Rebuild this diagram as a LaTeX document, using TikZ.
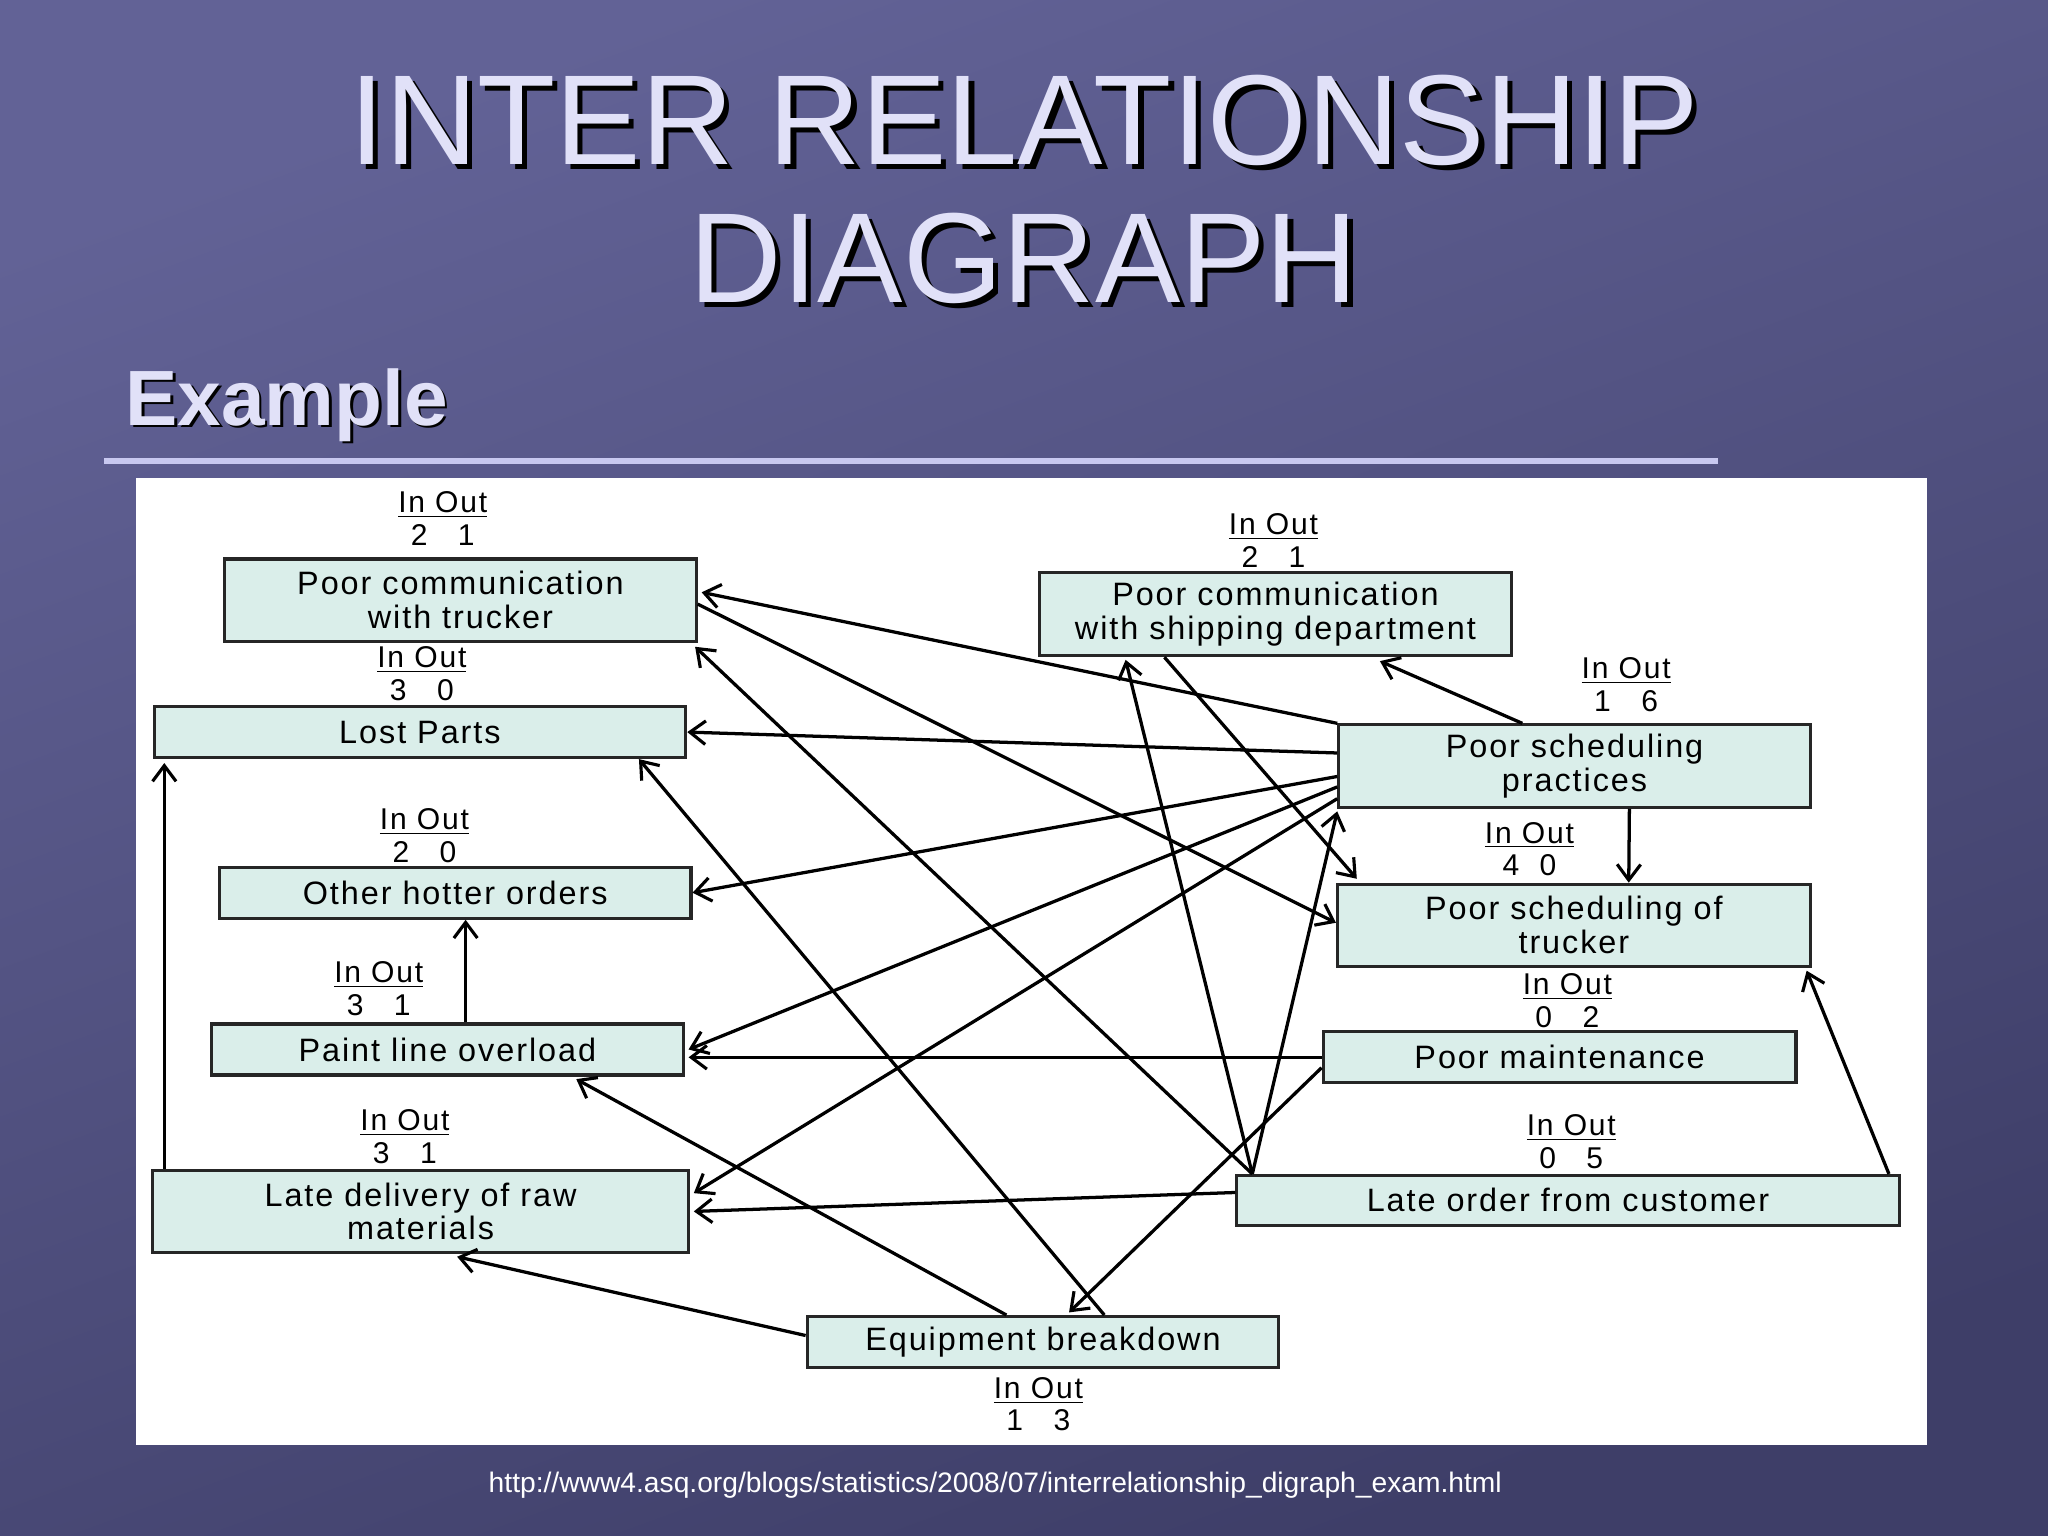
\documentclass[tikz,border=0pt]{standalone}
\usepackage{fontspec}
\setmainfont{Liberation Sans}
\newfontfamily\boxfont{Liberation Sans}[LetterSpace=6]
\usetikzlibrary{arrows.meta,calc}
\definecolor{bgtop}{RGB}{98,98,150}
\definecolor{bgbot}{RGB}{62,62,104}
\definecolor{ttl}{RGB}{225,225,248}
\definecolor{boxfill}{RGB}{218,238,234}
\definecolor{rule}{RGB}{200,200,240}
\begin{document}
\begin{tikzpicture}[x=0.5pt,y=-0.5pt,
  box/.style={draw=black!85,line width=1.2pt,fill=boxfill,inner sep=0pt,align=center,font=\boxfont\fontsize{12.4}{13}\selectfont},
  lab/.style={align=center,inner sep=0pt,font=\boxfont\fontsize{11.5}{12.5}\selectfont},
  arr/.style={line width=1.25pt,-{Straight Barb[length=6pt,width=9pt,line width=1.2pt]}}]
\useasboundingbox (0,0) rectangle (1568,1176);
\shade[top color=bgtop,bottom color=bgbot,shading angle=20] (0,0) rectangle (1568,1176);
% title
\foreach \dx/\c in {4/black,0/ttl}{
  \node[text=\c,font=\fontsize{49}{54}\selectfont] at ($(784,92)+(\dx,\dx)$) {INTER RELATIONSHIP};
  \node[text=\c,font=\fontsize{49}{54}\selectfont] at ($(784,198)+(\dx,\dx)$) {DIAGRAPH};
  \node[text=\c,font=\bfseries\fontsize{30}{34}\selectfont,anchor=west] at ($(89,310)+(\dx/2,\dx/2)$) {Example};
}
\draw[rule,line width=2pt] (80,353) -- (1315,353);
\fill[white] (104,366) rectangle (1475,1106);
\node[white,font=\fontsize{10.8}{12}\selectfont] (url) at (762,1137) {http://www4.asq.org/blogs/statistics/2008/07/interrelationship\_digraph\_exam.html};
% boxes
\node[box,minimum width=180.5pt,minimum height=31.5pt] (A) at (352.5,459.5) {Poor communication\\with trucker};
\node[box,minimum width=180.5pt,minimum height=32pt] (B) at (976.5,470) {Poor communication\\with shipping department};
\node[box,minimum width=203.5pt,minimum height=19.5pt] (C) at (321.5,560.5) {Lost Parts};
\node[box,minimum width=180.5pt,minimum height=31.5pt] (D) at (1205.5,586.5) {Poor scheduling\\practices};
\node[box,minimum width=180.5pt,minimum height=19.5pt] (E) at (348.5,683.5) {Other hotter orders};
\node[box,minimum width=181pt,minimum height=31.5pt] (F) at (1205,708.5) {Poor scheduling of\\trucker};
\node[box,minimum width=180.5pt,minimum height=19.5pt] (G) at (342.5,803.5) {Paint line overload};
\node[box,minimum width=181pt,minimum height=19.5pt] (H) at (1194,809.5) {Poor maintenance};
\node[box,minimum width=205pt,minimum height=31.5pt] (I) at (322,927.5) {Late delivery of raw\\materials};
\node[box,minimum width=253.5pt,minimum height=19pt] (J) at (1200.5,919) {Late order from customer};
\node[box,minimum width=180.5pt,minimum height=19.5pt] (K) at (798.5,1027.5) {Equipment breakdown};
% labels
\node[lab] (la) at (339,397) {\underline{In Out}\\2~~~1};
\node[lab] (lb) at (975,414) {\underline{In Out}\\2~~~1};
\node[lab] (lc) at (323,516) {\underline{In Out}\\3~~~0};
\node[lab] (ld) at (1245,524) {\underline{In Out}\\1~~~6};
\node[lab] (le) at (325,640) {\underline{In Out}\\2~~~0};
\node[lab] (lf) at (1171,650) {\underline{In Out}\\4~~0};
\node[lab] (lg) at (290,757) {\underline{In Out}\\3~~~1};
\node[lab] (lh) at (1200,766) {\underline{In Out}\\0~~~2};
\node[lab] (li) at (310,870) {\underline{In Out}\\3~~~1};
\node[lab] (lj) at (1203,874) {\underline{In Out}\\0~~~5};
\node[lab] (lk) at (795,1075) {\underline{In Out}\\1~~~3};
% arrows
\draw[arr] (D.north west) -- ($(A.east)+(3,-6)$);
\draw[arr] ($(D.west)+(0,-10)$) -- (C.east);
\draw[arr] ($(D.west)+(0,8)$) -- (E.east);
\draw[arr] ($(D.west)+(0,16)$) -- ($(G.east)+(3,0)$);
\draw[arr] ($(D.west)+(0,25)$) -- ($(I.east)+(3,-14)$);
\draw[arr] ($(D.north)+(-40,0)$) -- ($(B.south)+(80,3)$);
\draw[arr] ($(D.south)+(42,0)$) -- ($(F.north)+(42,0)$);
\draw[arr] ($(A.east)+(0,3)$) -- ($(F.west)+(0,-2)$);
\draw[arr] ($(B.south)+(-85,0)$) -- ($(F.north west)+(16,-3)$);
\draw[arr] ($(J.north west)+(13,0)$) -- ($(A.south east)+(-2,3)$);
\draw[arr] ($(K.north)+(47,0)$) -- ($(C.south east)+(-37,0)$);
\draw[arr] ($(K.north)+(-28,0)$) -- ($(G.south east)+(-83,2)$);
\draw[arr] ($(K.west)+(0,-5)$) -- ($(I.south)+(28,2)$);
\draw[arr] ($(J.north west)+(13,0)$) -- ($(B.south west)+(67,2)$);
\draw[arr] ($(J.north west)+(13,0)$) -- ($(D.south west)+(0,2)$);
\draw[arr] ($(J.west)+(0,-6)$) -- ($(I.east)+(3,0)$);
\draw[arr] ($(J.north east)+(-9,0)$) -- ($(F.south east)+(-4,2)$);
\draw[arr] (H.west) -- ($(G.east)+(3,6)$);
\draw[arr] ($(H.west)+(0,8)$) -- ($(K.north)+(20,-2)$);
\draw[arr] ($(G.north)+(14,0)$) -- ($(E.south)+(8,0)$);
\draw[arr] ($(I.north west)+(10,0)$) -- ($(C.south west)+(9,3)$);
\end{tikzpicture}
\end{document}
